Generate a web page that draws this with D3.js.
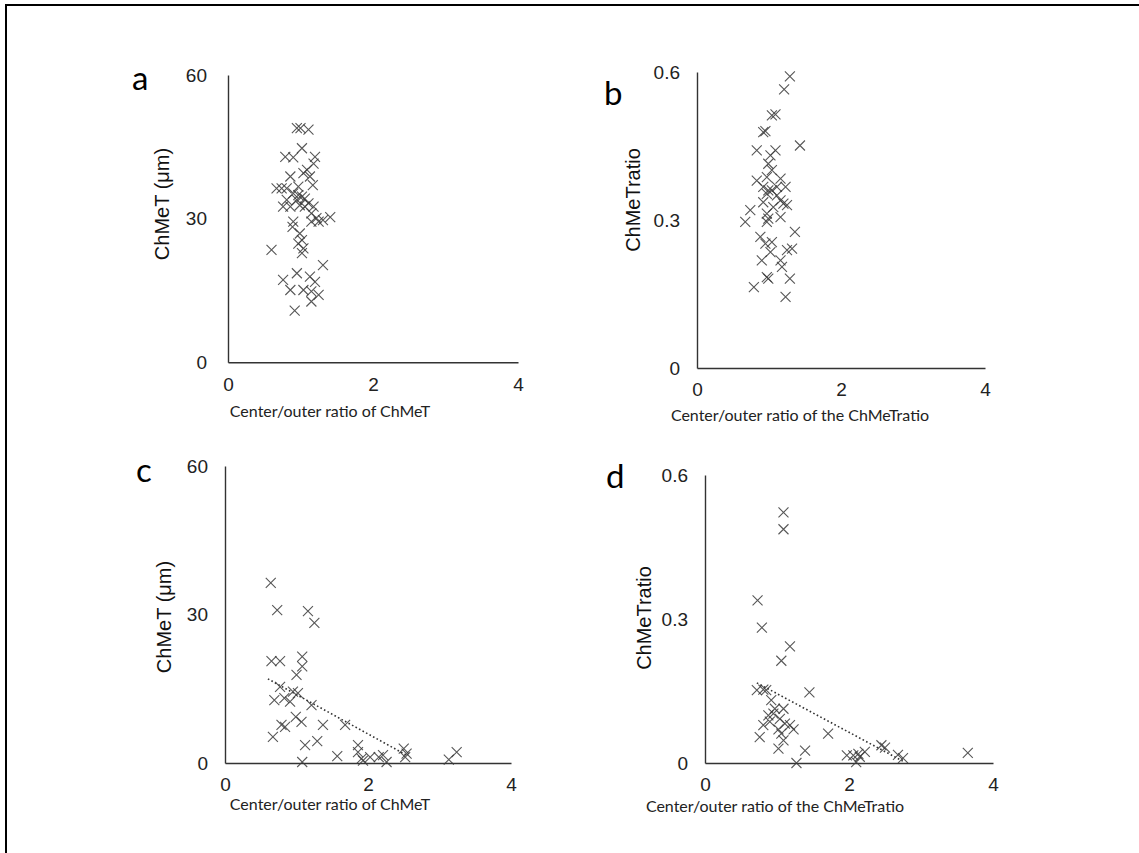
<!DOCTYPE html>
<html>
<head>
<meta charset="utf-8">
<script src="https://cdn.jsdelivr.net/npm/d3@7"></script>
<style>
  body { margin: 0; background: #fff; }
  svg { display: block; }
</style>
</head>
<body>
<div id="chart"></div>
<script>
// values
var aX = [0.95, 1.00, 1.11, 1.02, 0.79, 0.90, 1.20, 1.18, 0.86, 1.04, 1.13, 1.09, 1.17, 0.74, 0.81, 0.90, 0.97, 1.02, 1.06, 0.81, 0.95, 1.11, 0.76, 0.86, 0.99, 1.18, 1.15, 1.22, 1.31, 1.41, 1.25, 0.90, 0.89, 0.99, 1.02, 0.97, 1.04, 1.02, 0.60, 1.31, 0.76, 0.95, 1.13, 1.20, 0.86, 1.04, 1.15, 1.25, 1.15, 0.92, 0.67, 0.97, 1.06, 1.15];
var aY = [48.9, 48.9, 48.6, 44.7, 42.9, 42.8, 42.9, 41.5, 38.8, 39.5, 38.8, 40.2, 37.0, 36.3, 36.3, 35.3, 34.9, 34.6, 34.2, 33.9, 33.9, 33.2, 32.5, 32.5, 32.8, 32.5, 31.1, 30.1, 29.7, 30.3, 29.4, 29.4, 28.3, 26.9, 25.5, 24.8, 23.8, 22.8, 23.5, 20.3, 17.2, 18.6, 17.9, 16.8, 15.1, 15.1, 14.8, 14.1, 12.7, 10.8, 36.3, 36.7, 32.5, 29.4];

var bX = [1.29, 1.21, 1.04, 1.09, 0.95, 0.92, 1.43, 0.83, 1.09, 1.02, 0.99, 1.04, 0.83, 0.97, 1.16, 0.92, 0.99, 1.04, 1.23, 0.97, 1.11, 1.16, 1.20, 0.92, 0.74, 0.67, 0.97, 0.99, 0.97, 1.16, 1.25, 1.36, 0.88, 0.95, 1.04, 1.32, 1.25, 0.90, 1.02, 1.16, 1.18, 0.97, 0.99, 1.29, 0.79, 1.23, 1.11, 1.06];
var bY = [0.591, 0.565, 0.512, 0.514, 0.480, 0.478, 0.451, 0.441, 0.441, 0.431, 0.414, 0.401, 0.380, 0.387, 0.384, 0.367, 0.360, 0.360, 0.367, 0.353, 0.350, 0.340, 0.333, 0.336, 0.320, 0.296, 0.313, 0.303, 0.296, 0.306, 0.330, 0.276, 0.266, 0.252, 0.255, 0.242, 0.239, 0.218, 0.235, 0.218, 0.205, 0.184, 0.181, 0.181, 0.164, 0.144, 0.367, 0.326];

var cX = [0.64, 0.73, 1.16, 1.25, 0.65, 0.77, 1.08, 1.08, 1.00, 0.95, 0.77, 0.69, 0.83, 0.91, 1.21, 0.99, 1.07, 0.79, 0.84, 1.37, 1.68, 0.67, 1.12, 1.29, 1.08, 1.57, 1.86, 1.86, 1.91, 2.03, 2.15, 2.26, 2.50, 2.54, 2.52, 3.13, 3.24, 1.93, 2.21, 1.02];
var cY = [36.4, 30.9, 30.7, 28.3, 20.6, 20.6, 21.5, 19.5, 17.8, 14.4, 15.4, 12.7, 13.1, 12.4, 11.7, 9.3, 8.3, 7.7, 7.3, 7.7, 7.7, 5.3, 3.6, 4.4, 0.2, 1.4, 3.6, 2.2, 0.9, 1.2, 1.2, 0.2, 2.9, 1.9, 1.2, 0.7, 2.2, 0.5, 1.6, 14.1];
var cTrendX = [0.60, 2.55];
var cTrendY = [17.0, 1.5];

var dX = [1.09, 1.09, 0.73, 0.79, 1.18, 1.06, 0.72, 0.81, 0.85, 1.45, 0.92, 0.97, 1.09, 0.88, 0.95, 1.04, 1.11, 0.81, 0.90, 1.02, 1.23, 0.76, 1.06, 1.09, 1.02, 1.39, 1.71, 1.27, 1.97, 2.06, 2.10, 2.15, 2.22, 2.45, 2.50, 2.68, 2.75, 3.65, 1.18, 2.13];
var dY = [0.522, 0.487, 0.339, 0.282, 0.243, 0.213, 0.152, 0.153, 0.152, 0.147, 0.131, 0.113, 0.113, 0.099, 0.103, 0.092, 0.082, 0.079, 0.086, 0.070, 0.070, 0.054, 0.061, 0.047, 0.030, 0.026, 0.061, 0.000, 0.016, 0.016, 0.002, 0.013, 0.023, 0.037, 0.032, 0.017, 0.010, 0.021, 0.079, 0.019];
var dTrendX = [0.72, 2.77];
var dTrendY = [0.167, 0.002];

var xTicks = [0, 2, 4];
var yTicksUm = [0, 30, 60];
var yTicksRatio = [0, 0.3, 0.6];

var W = 1139, H = 853;

var svg = d3.select("#chart")
  .append("svg")
    .attr("width", W)
    .attr("height", H);

// frame (left + top edges)
svg.append("path")
  .attr("d", "M6,853V5H1139")
  .attr("fill", "none")
  .attr("stroke", "#000")
  .attr("stroke-width", 2);

var create_panel = function(p) {
  var x = d3.scaleLinear().domain([0, 4]).range([p.x0, p.x1]);
  var y = d3.scaleLinear().domain([0, p.yMax]).range([p.y0, p.y1]);

  var g = svg.append("g");

  // x axis
  g.append("g")
    .attr("transform", "translate(0," + p.y0 + ")")
    .call(d3.axisBottom(x).tickValues(xTicks).tickSize(0).tickSizeOuter(0).tickPadding(15)
      .tickFormat(d3.format("d")));

  // y axis
  g.append("g")
    .attr("transform", "translate(" + p.x0 + ",0)")
    .call(d3.axisLeft(y).tickValues(p.yTicks).tickSize(0).tickSizeOuter(0).tickPadding(p.pad)
      .tickFormat(function(d) { return d === 0 ? "0" : String(d); }));

  g.selectAll(".domain")
    .attr("stroke", "#333")
    .attr("stroke-width", 1.4);
  g.selectAll(".tick text")
    .style("font-family", "'Liberation Sans', Arial, sans-serif")
    .style("font-size", "19px")
    .attr("fill", "#222");

  // trend line
  if (p.tx) {
    var tl = p.tx.map(function(v, i) { return [v, p.ty[i]]; });
    g.append("path")
      .datum(tl)
      .attr("fill", "none")
      .attr("stroke", "#333")
      .attr("stroke-width", 1.6)
      .attr("stroke-dasharray", "1.6,2.4")
      .attr("d", d3.line()
        .x(function(d) { return x(d[0]); })
        .y(function(d) { return y(d[1]); }));
  }

  // points (x markers)
  var pts = p.xs.map(function(v, i) { return [v, p.ys[i]]; });
  g.append("g")
    .selectAll("path")
    .data(pts)
    .enter()
    .append("path")
      .attr("transform", function(d) { return "translate(" + x(d[0]) + "," + y(d[1]) + ")"; })
      .attr("d", "M-5,-5L5,5M-5,5L5,-5")
      .attr("fill", "none")
      .attr("stroke", "#3a3a3a")
      .attr("stroke-opacity", 0.85)
      .attr("stroke-width", 1.1);

  // y title
  g.append("text")
    .attr("transform", "translate(" + p.ytx + "," + p.yty + ")rotate(-90)")
    .attr("text-anchor", "middle")
    .attr("dominant-baseline", "central")
    .style("font-family", "'Liberation Sans', Arial, sans-serif")
    .style("font-size", "20px")
    .attr("fill", "#111")
    .text(p.yTitle);

  // x title
  g.append("text")
    .attr("x", p.xtx)
    .attr("y", p.xty)
    .attr("text-anchor", "middle")
    .style("font-family", "Lato, 'Open Sans', sans-serif")
    .style("font-size", "16px")
    .attr("fill", "#222")
    .text(p.xTitle);

  // panel letter
  g.append("text")
    .attr("x", p.lx)
    .attr("y", p.ly)
    .style("font-family", "Lato, 'Open Sans', sans-serif")
    .style("font-size", "33px")
    .attr("fill", "#000")
    .text(p.letter);
};

create_panel({xs: aX, ys: aY, yMax: 60, yTicks: yTicksUm, pad: 21,
  x0: 228, x1: 518, y0: 362.3, y1: 75,
  yTitle: "ChMeT (\u03bcm)", ytx: 162, yty: 204,
  xTitle: "Center/outer ratio of ChMeT", xtx: 330, xty: 417,
  letter: "a", lx: 132, ly: 90});

create_panel({xs: bX, ys: bY, yMax: 0.6, yTicks: yTicksRatio, pad: 17,
  x0: 697, x1: 985, y0: 368, y1: 72,
  yTitle: "ChMeTratio", ytx: 633, yty: 200,
  xTitle: "Center/outer ratio of the ChMeTratio", xtx: 800, xty: 421,
  letter: "b", lx: 604, ly: 105});

create_panel({xs: cX, ys: cY, yMax: 60, yTicks: yTicksUm, pad: 17, tx: cTrendX, ty: cTrendY,
  x0: 225, x1: 511, y0: 763, y1: 466,
  yTitle: "ChMeT (\u03bcm)", ytx: 164, yty: 617,
  xTitle: "Center/outer ratio of ChMeT", xtx: 330, xty: 810,
  letter: "c", lx: 136, ly: 482});

create_panel({xs: dX, ys: dY, yMax: 0.6, yTicks: yTicksRatio, pad: 17, tx: dTrendX, ty: dTrendY,
  x0: 705, x1: 993, y0: 763, y1: 475,
  yTitle: "ChMeTratio", ytx: 644, yty: 618,
  xTitle: "Center/outer ratio of the ChMeTratio", xtx: 775, xty: 812,
  letter: "d", lx: 606, ly: 488});
</script>
</body>
</html>
